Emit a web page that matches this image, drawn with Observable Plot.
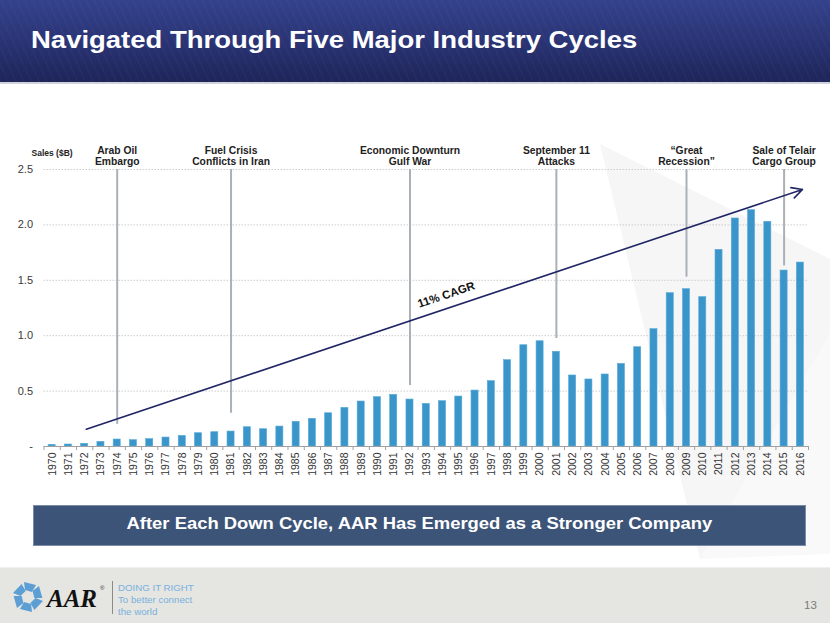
<!DOCTYPE html>
<html>
<head>
<meta charset="utf-8">
<script src="https://cdn.jsdelivr.net/npm/d3@7"></script>
<script src="https://cdn.jsdelivr.net/npm/@observablehq/plot@0.6"></script>
<style>
  html, body { margin: 0; padding: 0; background: #fff; }
  body { width: 830px; height: 623px; position: relative; overflow: hidden; font-family: "Liberation Sans", Arial, sans-serif; }
  #titlebar { position: absolute; left: 0; top: 0; width: 830px; height: 82px;
    background:
      repeating-linear-gradient(65deg, rgba(255,255,255,0.025) 0px, rgba(255,255,255,0.025) 1px, rgba(255,255,255,0) 2px, rgba(255,255,255,0) 7px),
      linear-gradient(180deg, #34428c 0%, #2a3475 50%, #1e2559 100%);
    border-bottom: 2px solid #cfd2dc; }
  #title { position: absolute; left: 31px; top: 28px; font-size: 24px; line-height: 24px; font-weight: bold; color: #fff;
    white-space: nowrap; transform: scaleX(1.145); transform-origin: 0 0; }
  #watermark { position: absolute; left: 0; top: 84px; z-index: 0; }
  #chart { position: absolute; left: 0; top: 90px; z-index: 1; }
  #banner { position: absolute; left: 33px; top: 505px; width: 771px; height: 39px; background: #3d5479; border: 1px solid #7b8aa6; z-index: 2; }
  #bannertext { position: absolute; left: 0; top: 515px; width: 838px; text-align: center; z-index: 3; }
  #bannertext span { display: inline-block; font-size: 17px; line-height: 17px; font-weight: bold; color: #fff; white-space: nowrap; transform: scaleX(1.083); }
  #footer { position: absolute; left: 0; top: 567px; width: 830px; height: 56px; background: #e5e5e1; border-top: 1px solid #efefec; }
  #tagline { position: absolute; left: 118px; top: 14px; font-size: 9.7px; line-height: 12px; color: #78b1de; font-weight: 500; }
  #sep { position: absolute; left: 112px; top: 13px; width: 1px; height: 33px; background: #8a8a8a; }
  #pagenum { position: absolute; left: 804px; top: 31px; font-size: 11.5px; color: #7a7a7a; }
</style>
</head>
<body>
<div id="titlebar"><div id="title">Navigated Through Five Major Industry Cycles</div></div>
<svg id="watermark" width="830" height="483">
  <polygon points="600,60 830,175 830,250 700,475" fill="#f6f6f6"/>
  <polygon points="830,250 830,470 700,475" fill="#f9f9f9"/>
</svg>
<div id="chart"></div>
<div id="banner"></div>
<div id="bannertext"><span>After Each Down Cycle, AAR Has Emerged as a Stronger Company</span></div>
<div id="footer">
  <svg width="110" height="56" style="position:absolute;left:0;top:0">
    <g transform="translate(28,29)" fill="#5d9fd5">
      <polygon points="-4,-15 8,-12 4,-5 -3,-7" transform="rotate(0)"/>
      <polygon points="-4,-15 8,-12 4,-5 -3,-7" transform="rotate(60)"/>
      <polygon points="-4,-15 8,-12 4,-5 -3,-7" transform="rotate(120)"/>
      <polygon points="-4,-15 8,-12 4,-5 -3,-7" transform="rotate(180)"/>
      <polygon points="-4,-15 8,-12 4,-5 -3,-7" transform="rotate(240)"/>
      <polygon points="-4,-15 8,-12 4,-5 -3,-7" transform="rotate(300)"/>
    </g>
    <text x="47" y="39" font-family="Liberation Serif, serif" font-style="italic" font-weight="bold" font-size="25" fill="#111">AAR</text>
    <text x="100" y="22" font-family="Liberation Sans, Arial" font-size="6" fill="#333">®</text>
  </svg>
  <div id="sep"></div>
  <div id="tagline">DOING IT RIGHT<br>To better connect<br>the world</div>
  <div id="pagenum">13</div>
</div>
<script>
// ---- data ----
const years = [1970,1971,1972,1973,1974,1975,1976,1977,1978,1979,1980,1981,1982,1983,1984,1985,1986,1987,1988,1989,1990,1991,1992,1993,1994,1995,1996,1997,1998,1999,2000,2001,2002,2003,2004,2005,2006,2007,2008,2009,2010,2011,2012,2013,2014,2015,2016];
const sales = [0.015,0.018,0.024,0.042,0.063,0.057,0.066,0.081,0.096,0.120,0.129,0.135,0.174,0.156,0.180,0.223,0.250,0.300,0.349,0.406,0.445,0.466,0.424,0.385,0.409,0.451,0.505,0.590,0.779,0.914,0.950,0.855,0.641,0.605,0.650,0.746,0.896,1.059,1.384,1.420,1.348,1.775,2.058,2.133,2.028,1.588,1.660];
const yTicks = [0, 0.5, 1.0, 1.5, 2.0, 2.5];
const eventYears = [1974, 1981, 1992, 2001, 2009, 2015];
const eventLineEnds = [0.20, 0.30, 0.55, 0.975, 1.528, 1.63];
const eventLabels = ["Arab Oil\nEmbargo", "Fuel Crisis\nConflicts in Iran", "Economic Downturn\nGulf War", "September 11\nAttacks", "\u201cGreat\nRecession\u201d", "Sale of Telair\nCargo Group"];
const cagrStart = [1972.1, 0.156];
const cagrEnd = [2016.13, 2.32];
const cagrLabel = "11% CAGR";
const cagrLabelPos = [1994.23, 1.369];
const yLabel = "Sales ($B)";

// ---- tables ----
const table = years.map((year, i) => ({year, sales: sales[i]}));
const events = eventYears.map((year, i) => ({year, end: eventLineEnds[i], label: eventLabels[i]}));
const boundaries = [years[0] - 0.5, ...years.map(y => y + 0.5)];
const cagr = [{x1: cagrStart[0], y1: cagrStart[1], x2: cagrEnd[0], y2: cagrEnd[1]}];

const font = "Liberation Sans, Arial, sans-serif";
const chart = Plot.plot({
  width: 830,
  height: 400,
  marginTop: 79,
  marginBottom: 44,
  marginLeft: 43.5,
  marginRight: 22,
  x: {type: "linear", domain: [years[0] - 0.5, years[years.length - 1] + 0.5], axis: null},
  y: {domain: [0, 2.5], axis: null},
  style: {fontFamily: font, background: "transparent", overflow: "visible"},
  marks: [
    Plot.gridY(yTicks.filter(d => d > 0), {stroke: "#cdcdcd", strokeOpacity: 1, strokeDasharray: "1.5,1.5", strokeWidth: 1}),
    Plot.axisY(yTicks, {tickSize: 0, tickPadding: 11, label: null, fontSize: 11, fill: "#3a3a3a",
      tickFormat: d => d === 0 ? "-" : d.toFixed(1)}),
    Plot.rectY(table, {x1: d => d.year - 0.5, x2: d => d.year + 0.5, y: "sales", insetLeft: 4.6, insetRight: 4.6,
      fill: "#3a96ca", stroke: "#5aaad6", strokeWidth: 0.6}),
    Plot.ruleY([0], {stroke: "#a0a0a0", strokeWidth: 1}),
    Plot.axisX(boundaries, {tickSize: 4, tickFormat: () => "", stroke: "#a0a0a0", label: null}),
    Plot.axisX(years, {tickSize: 0, tickPadding: 6, tickRotate: -90, label: null, fontSize: 10.5, fill: "#333",
      tickFormat: d => String(d)}),
    Plot.ruleX(events, {x: "year", y1: 2.5, y2: "end", stroke: "#a9b0b8", strokeWidth: 2}),
    Plot.arrow(cagr, {x1: "x1", y1: "y1", x2: "x2", y2: "y2", stroke: "#1f2565", strokeWidth: 1.6, headLength: 11, headAngle: 55}),
    Plot.text([cagrLabel], {x: cagrLabelPos[0], y: cagrLabelPos[1], text: d => d, rotate: -18.5,
      fontWeight: "bold", fontSize: 11.5, fill: "#111"}),
    Plot.text(events, {x: "year", y: 2.625, text: "label", fontWeight: "bold", fontSize: 10.3, lineHeight: 1.07, fill: "#222"}),
    Plot.text([yLabel], {frameAnchor: "top-left", dx: -12.5, dy: -20, text: d => d, fontWeight: "bold", fontSize: 8.5, fill: "#222"})
  ]
});
document.getElementById("chart").appendChild(chart);
</script>
</body>
</html>
